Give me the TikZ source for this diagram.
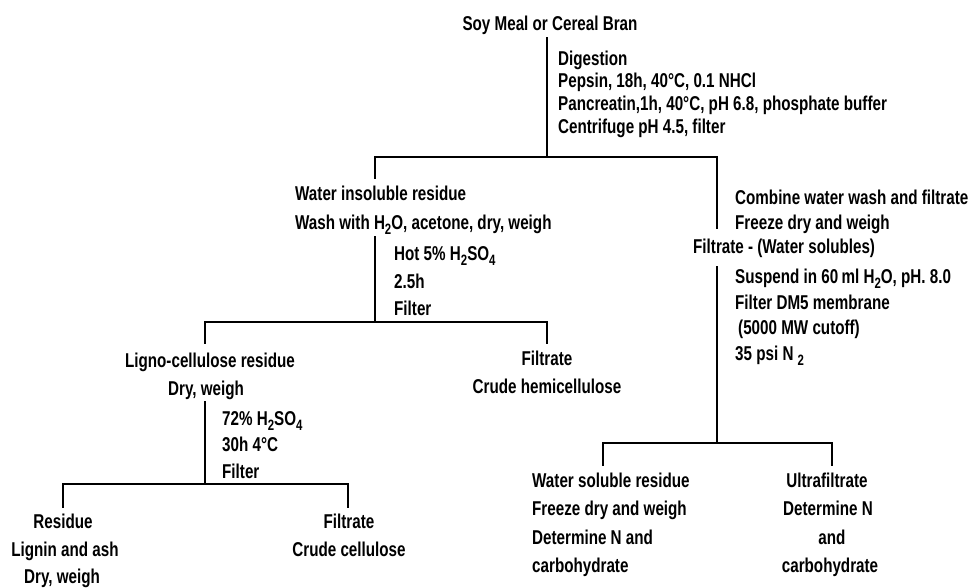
\documentclass[tikz,border=0pt]{standalone}
\usepackage{fontspec}
\setmainfont{Liberation Sans}[FakeStretch=0.76]
\newcommand\lowsub[1]{\raisebox{-0.25em}{\fontsize{15}{15}\selectfont #1}}
\tikzset{
  txt/.style={inner sep=0pt, font=\fontsize{20}{24}\selectfont\bfseries},
  lt/.style={txt, anchor=base west},
  ct/.style={txt, anchor=base},
  conn/.style={line width=2.3pt, line cap=rect, line join=miter}
}
\begin{document}
\begin{tikzpicture}[x=1pt,y=-1pt]
\useasboundingbox (0,0) rectangle (977,587);
% junction coordinates
\coordinate (v0t) at (547,38);  \coordinate (v0b) at (547,157);
\coordinate (h1l) at (375,157); \coordinate (h1r) at (717,157);
\coordinate (d1l) at (375,178); \coordinate (d1r) at (717,228);
\coordinate (v1t) at (375,237); \coordinate (v1b) at (375,322);
\coordinate (h2l) at (205,322); \coordinate (h2r) at (547,322);
\coordinate (d2l) at (205,343); \coordinate (d2r) at (547,343);
\coordinate (v2t) at (205,402); \coordinate (v2b) at (205,484);
\coordinate (h3l) at (63,484);  \coordinate (h3r) at (348,484);
\coordinate (d3l) at (63,507);  \coordinate (d3r) at (348,507);
\coordinate (v3t) at (717,267); \coordinate (v3b) at (717,443);
\coordinate (h4l) at (603,443); \coordinate (h4r) at (832,443);
\coordinate (d4l) at (603,465); \coordinate (d4r) at (832,465);

% connectors
\draw[conn] (v0t) -- (v0b);
\draw[conn] (d1l) -- (h1l) -- (h1r) -- (d1r);
\draw[conn] (v1t) -- (v1b);
\draw[conn] (d2l) -- (h2l) -- (h2r) -- (d2r);
\draw[conn] (v2t) -- (v2b);
\draw[conn] (d3l) -- (h3l) -- (h3r) -- (d3r);
\draw[conn] (v3t) -- (v3b);
\draw[conn] (d4l) -- (h4l) -- (h4r) -- (d4r);

% texts
\node[ct] (soy) at (550,30) {Soy Meal or Cereal Bran};
\node[lt] (dig1) at (558,65) {Digestion};
\node[lt] (dig2) at (558,87) {Pepsin, 18h, 40°C, 0.1 NHCl};
\node[lt] (dig3) at (558,110) {Pancreatin,1h, 40°C, pH 6.8, phosphate buffer};
\node[lt] (dig4) at (558,133) {Centrifuge pH 4.5, filter};

\node[lt] (wir1) at (295,200) {Water insoluble residue};
\node[lt] (wir2) at (295,229) {Wash with H\lowsub{2}O, acetone, dry, weigh};
\node[lt] (hot1) at (394,260) {Hot 5\% H\lowsub{2}SO\lowsub{4}};
\node[lt] (hot2) at (394,288) {2.5h};
\node[lt] (hot3) at (394,315) {Filter};

\node[ct] (lig1) at (210,367) {Ligno-cellulose residue};
\node[ct] (lig2) at (206,395) {Dry, weigh};
\node[lt] (sul1) at (222,425) {72\% H\lowsub{2}SO\lowsub{4}};
\node[lt] (sul2) at (222,451) {30h 4°C};
\node[lt] (sul3) at (222,478) {Filter};

\node[ct] (res1) at (63,528) {Residue};
\node[ct] (res2) at (65,556) {Lignin and ash};
\node[ct] (res3) at (62,583) {Dry, weigh};
\node[ct] (cel1) at (349,528) {Filtrate};
\node[ct] (cel2) at (349,556) {Crude cellulose};

\node[ct] (hem1) at (547,365) {Filtrate};
\node[ct] (hem2) at (547,393) {Crude hemicellulose};

\node[lt] (cmb1) at (735,204) {Combine water wash and filtrate};
\node[lt] (cmb2) at (735,229) {Freeze dry and weigh};
\node[lt] (fws) at (693,253) {Filtrate - (Water solubles)};
\node[lt] (sus1) at (735,283) {Suspend in 60\,ml H\lowsub{2}O, pH. 8.0};
\node[lt] (sus2) at (735,309) {Filter DM5 membrane};
\node[lt] (sus3) at (738,334) {(5000 MW cutoff)};
\node[lt] (sus4) at (735,360) {35 psi N \lowsub{2}};

\node[lt] (wsr1) at (532,487) {Water soluble residue};
\node[lt] (wsr2) at (532,515) {Freeze dry and weigh};
\node[lt] (wsr3) at (532,544) {Determine N and};
\node[lt] (wsr4) at (532,572) {carbohydrate};
\node[ct] (ult1) at (827,487) {Ultrafiltrate};
\node[ct] (ult2) at (828,515) {Determine N};
\node[ct] (ult3) at (832,544) {and};
\node[ct] (ult4) at (830,572) {carbohydrate};
\end{tikzpicture}
\end{document}
